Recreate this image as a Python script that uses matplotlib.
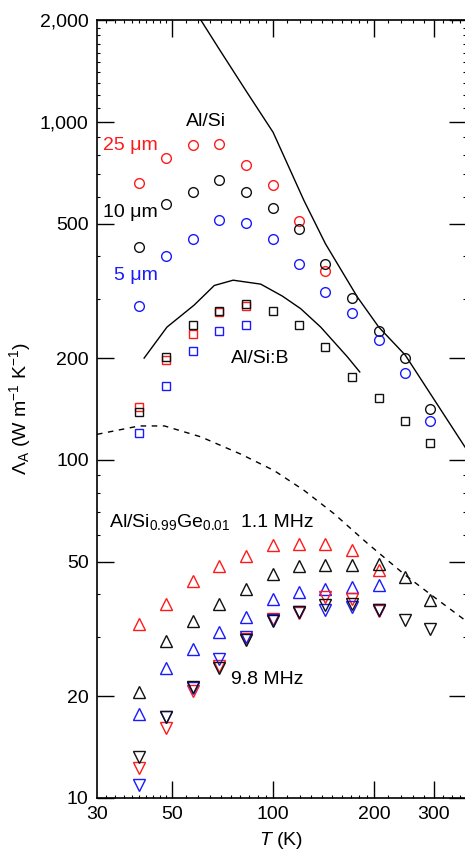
import matplotlib
matplotlib.use("Agg")
import numpy as np
import matplotlib.pyplot as plt
from matplotlib.ticker import FixedLocator, NullFormatter

plt.rcParams['font.family'] = ['Liberation Sans', 'DejaVu Sans']
plt.rcParams['mathtext.fontset'] = 'custom'
plt.rcParams['mathtext.rm'] = 'Liberation Sans'
plt.rcParams['mathtext.it'] = 'Liberation Sans:italic'
plt.rcParams['mathtext.bf'] = 'Liberation Sans:bold'

# Temperatures (K)
T = [40, 48, 58, 69, 83, 100, 119, 143, 172, 206, 247, 293]

# Al/Si, circles, by spot size
alsi_25um = [660, 781, 851, 859, 743, 648, 508, 361]
alsi_10um = [426, 571, 619, 671, 619, 557, 481, 380, 302, 240, 200, 141]
alsi_5um = [286, 400, 450, 514, 502, 450, 380, 314, 271, 226, 181, 130]

# Al/Si:B, squares
alsib_black = [139, 202, 250, 276, 290, 276, 250, 216, 176, 152, 130, 112]
alsib_red = [143, 198, 235, 274, 285]
alsib_blue = [120, 165, 210, 241, 250]

# Al/Si0.99Ge0.01 at 1.1 MHz (up triangles)
sige_11_red = [32.7, 37.5, 43.9, 48.6, 52.1, 56.2, 56.4, 56.4, 54.0, 47.2]
sige_11_black = [20.6, 29.2, 33.4, 37.6, 41.4, 45.9, 48.5, 48.9, 48.9, 49.2, 45.1, 38.5]
sige_11_blue = [17.7, 24.3, 27.6, 30.9, 34.4, 38.8, 40.8, 41.6, 42.0, 42.8]

# Al/Si0.99Ge0.01 at 9.8 MHz (down triangles)
sige_98_black = [13.2, 17.4, 21.3, 24.2, 29.3, 33.4, 35.6, 37.2, 37.4, 36.1, 33.6, 31.6]
sige_98_red = [12.3, 16.1, 20.7, 24.6, 29.5, 33.8, 35.3, 39.4, 38.9, 35.8]
sige_98_blue = [10.9, 17.4, 21.1, 25.8, 29.9, 33.6, 35.6, 36.0, 36.6, 36.0]

# Model curves
si_curve_T = [61, 69, 83, 100, 108, 123.5, 143, 178, 206, 247, 293, 374]
si_curve_L = [2000, 1647, 1237, 931, 786, 585, 436, 303, 247, 204, 157, 108]
sib_curve_T = [41.4, 48.4, 58.3, 66.9, 76.1, 91.9, 106.6, 120.8, 138.5, 166, 180.9]
sib_curve_L = [200, 247, 287, 328, 340, 331, 305, 280, 247, 202, 182]
sige_curve_T = [30, 40, 47.6, 61, 80.2, 100.7, 123.5, 151.5, 190, 247, 299.5, 374]
sige_curve_L = [119, 126, 126, 117, 104, 93, 81.3, 69.4, 56.8, 45.6, 39.4, 33.4]

RED = '#ff1a1a'
BLUE = '#1a1aff'
BLACK = '#111111'

W, H = 465, 851
fig = plt.figure(figsize=(W / 100, H / 100), dpi=100)
ax = fig.add_axes([97 / W, (H - 798) / H, (466 - 97) / W, (798 - 20) / H])
ax.set_xscale('log')
ax.set_yscale('log')
ax.set_xlim(30, 374)
ax.set_ylim(10, 2000)

mk = dict(linestyle='none', markerfacecolor='none', markeredgewidth=1.0)

# curves
ax.plot(si_curve_T, si_curve_L, color='black', lw=1.0)
ax.plot(sib_curve_T, sib_curve_L, color='black', lw=1.0)
ax.plot(sige_curve_T, sige_curve_L, color='black', lw=1.0, linestyle=(0, (4, 4)))

# Al/Si circles
ax.plot(T[:len(alsi_25um)], alsi_25um, marker='o', ms=7, markeredgecolor=RED, **mk)
ax.plot(T[:len(alsi_10um)], alsi_10um, marker='o', ms=7, markeredgecolor=BLACK, **mk)
ax.plot(T[:len(alsi_5um)], alsi_5um, marker='o', ms=7, markeredgecolor=BLUE, **mk)

# Al/Si:B squares
ax.plot(T[:len(alsib_red)], alsib_red, marker='s', ms=6.3, markeredgecolor=RED, **mk)
ax.plot(T[:len(alsib_blue)], alsib_blue, marker='s', ms=6.3, markeredgecolor=BLUE, **mk)
ax.plot(T[:len(alsib_black)], alsib_black, marker='s', ms=6.3, markeredgecolor=BLACK, **mk)

# Al/SiGe triangles
ax.plot(T[:len(sige_11_red)], sige_11_red, marker='^', ms=8, markeredgecolor=RED, **mk)
ax.plot(T[:len(sige_11_blue)], sige_11_blue, marker='^', ms=8, markeredgecolor=BLUE, **mk)
ax.plot(T[:len(sige_11_black)], sige_11_black, marker='^', ms=8, markeredgecolor=BLACK, **mk)
ax.plot(T[:len(sige_98_red)], sige_98_red, marker='v', ms=8, markeredgecolor=RED, **mk)
ax.plot(T[:len(sige_98_blue)], sige_98_blue, marker='v', ms=8, markeredgecolor=BLUE, **mk)
ax.plot(T[:len(sige_98_black)], sige_98_black, marker='v', ms=8, markeredgecolor=BLACK, **mk)

# annotations
fs = 14
ax.text(55.2, 1000, 'Al/Si', fontsize=fs, ha='left', va='center')
ax.text(45.6, 823, '25 μm', fontsize=fs, ha='right', va='baseline', color=RED)
ax.text(45.6, 522, '10 μm', fontsize=fs, ha='right', va='baseline', color='black')
ax.text(45.6, 340, '5 μm', fontsize=fs, ha='right', va='baseline', color=BLUE)
ax.text(75, 193, 'Al/Si:B', fontsize=fs, ha='left', va='baseline')
ax.text(32.5, 63.4, r'Al/Si$_{0.99}$Ge$_{0.01}$', fontsize=fs, ha='left', va='baseline')
ax.text(80.3, 63.4, '1.1 MHz', fontsize=fs, ha='left', va='baseline')
ax.text(75, 21.8, '9.8 MHz', fontsize=fs, ha='left', va='baseline')

# ticks
xt = [30, 50, 100, 200, 300]
yt = [10, 20, 50, 100, 200, 500, 1000, 2000]
ax.xaxis.set_major_locator(FixedLocator(xt))
ax.set_xticklabels([str(v) for v in xt])
ax.yaxis.set_major_locator(FixedLocator(yt))
ax.set_yticklabels([f'{v:,}' for v in yt])
x_minor = list(range(32, 50, 2)) + list(range(55, 100, 5)) + list(range(110, 200, 10)) + list(range(220, 380, 20))
y_minor = [m * d for d in (10, 100) for m in range(1, 10)] + list(range(1000, 2000, 100))
x_minor = [v for v in x_minor if v not in xt]
y_minor = [v for v in y_minor if v not in yt]
ax.xaxis.set_minor_locator(FixedLocator(x_minor))
ax.yaxis.set_minor_locator(FixedLocator(y_minor))
ax.xaxis.set_minor_formatter(NullFormatter())
ax.yaxis.set_minor_formatter(NullFormatter())
ax.tick_params(which='major', direction='in', length=12, width=1.0, labelsize=14,
               top=True, right=True, pad=6)
ax.tick_params(which='minor', direction='in', length=2.5, width=0.8, top=True, right=True)
# the corner value 30 carries a label but no tick mark
ax.xaxis.get_major_ticks()[0].tick1line.set_visible(False)
ax.xaxis.get_major_ticks()[0].tick2line.set_visible(False)
for s in ax.spines.values():
    s.set_linewidth(1.2)

ax.set_xlabel(r'$\it{T}$ (K)', fontsize=14, labelpad=5)
ax.set_ylabel(r'Λ$_{\rm A}$ (W m$^{-1}$ K$^{-1}$)', fontsize=14)
ax.yaxis.set_label_coords(-0.173, 0.5)

fig.savefig('out.png', dpi=100)
